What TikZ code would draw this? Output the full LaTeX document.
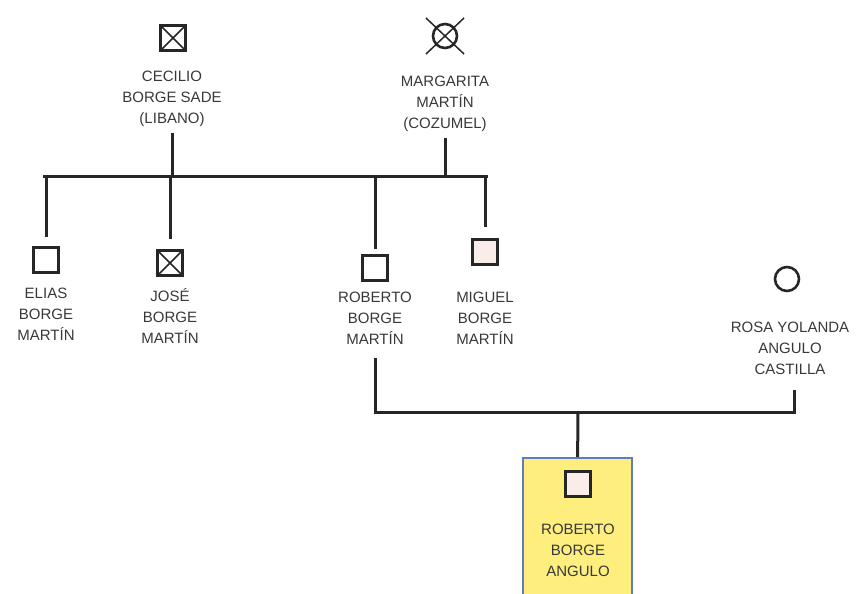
\documentclass[tikz,border=0pt]{standalone}
\usepackage{fontspec}
\setmainfont{Liberation Sans}
\usetikzlibrary{calc}
\begin{document}
\begin{tikzpicture}[x=1pt,y=-1pt,
  male/.style={draw=black!85,line width=3pt,minimum size=25pt,inner sep=0pt,fill=white},
  female/.style={draw=black!85,line width=2.6pt,circle,minimum size=24pt,inner sep=0pt,fill=white},
  dead/.style={path picture={\draw[line width=1.5pt,black!85] (path picture bounding box.north west) -- (path picture bounding box.south east) (path picture bounding box.north east) -- (path picture bounding box.south west);}},
  lbl/.style={align=center,text=black!78,font=\fontsize{15}{21}\selectfont,inner sep=0pt,anchor=north},
  link/.style={line width=3pt,black!85}]
\useasboundingbox (0,0) rectangle (867,594);
% proband box
\node[draw={rgb,255:red,95;green,125;blue,190},line width=2.2pt,fill={rgb,255:red,253;green,238;blue,125},minimum width=109pt,minimum height=150pt,anchor=north west] (pbox) at (522,457) {};
% grandparents
\node[male,dead] (cec) at (173,38) {};
\node[lbl] (cect) at (172,71) {CECILIO\\BORGE SADE\\(LIBANO)};
\node[female] (mar) at (445,36) {};
\draw[line width=1.5pt,black!85] ($(mar)+(-19,-18)$) -- ($(mar)+(19,18)$) ($(mar)+(19,-18)$) -- ($(mar)+(-19,18)$);
\node[lbl] (mart) at (445,76) {MARGARITA\\MARTÍN\\(COZUMEL)};
% sibship
\coordinate (sl) at (44.5,176);
\coordinate (sr) at (486.5,176);
\draw[link,line cap=rect] (sl) -- (sr);
\draw[link] (172,133) -- (172,176);
\draw[link] (445,138) -- (445,176);
% children
\node[male] (eli) at (46,260) {};
\node[lbl] (elit) at (46,288) {ELIAS\\BORGE\\MARTÍN};
\node[male,dead] (jos) at (170,263) {};
\node[lbl] (jost) at (170,288) {JOSÉ\\BORGE\\MARTÍN};
\node[male] (rob) at (375,268) {};
\node[lbl] (robt) at (375,292) {ROBERTO\\BORGE\\MARTÍN};
\node[male,fill={rgb,255:red,250;green,236;blue,232}] (mig) at (485,252) {};
\node[lbl] (migt) at (485,292) {MIGUEL\\BORGE\\MARTÍN};
\draw[link] (46,176) -- ($(eli.north)+(0,-9)$);
\draw[link] (170,176) -- ($(jos.north)+(0,-10)$);
\draw[link] (375,176) -- ($(rob.north)+(0,-5)$);
\draw[link] (485,176) -- ($(mig.north)+(0,-11)$);
% spouse
\node[female] (ros) at (787,279) {};
\node[lbl] (rost) at (790,322) {ROSA YOLANDA\\ANGULO\\CASTILLA};
% marriage
\coordinate (ml) at (375,412);
\coordinate (mr) at (794,412);
\draw[link] (375,358) -- (ml) -- (mr) -- (794,390);
\draw[link] (578,412) -- (pbox.north);
% proband
\node[male,fill={rgb,255:red,250;green,236;blue,232}] (pro) at (578,484) {};
\node[lbl] (prot) at (578,524) {ROBERTO\\BORGE\\ANGULO};
\end{tikzpicture}
\end{document}
